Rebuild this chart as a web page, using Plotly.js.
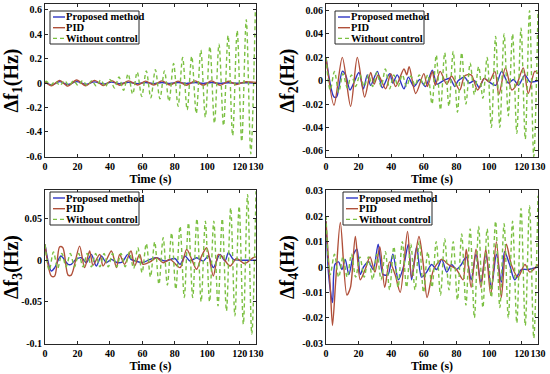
<!DOCTYPE html>
<html><head><meta charset="utf-8">
<script src="https://cdn.plot.ly/plotly-3.0.1.min.js"></script>
<style>html,body{margin:0;padding:0;background:#fff}#chart{width:550px;height:374px}</style>
</head><body><div id="chart"></div>
<script>
// ---------- data ----------
const SERIES_NAMES = ['Proposed method', 'PID', 'Without control'];
const X_TICKS = [0, 20, 40, 60, 80, 100, 120, 130];
const X_TICK_TEXT = ['0', '20', '40', '60', '80', '100', '120', '130'];
const Y_TICKS_1 = [-0.6, -0.4, -0.2, 0, 0.2, 0.4, 0.6];
const Y_TEXT_1 = ['-0.6', '-0.4', '-0.2', '0', '0.2', '0.4', '0.6'];
const Y_TICKS_2 = [-0.06, -0.04, -0.02, 0, 0.02, 0.04, 0.06];
const Y_TEXT_2 = ['-0.06', '-0.04', '-0.02', '0', '0.02', '0.04', '0.06'];
const Y_TICKS_3 = [-0.1, -0.05, 0, 0.05];
const Y_TEXT_3 = ['-0.1', '-0.05', '0', '0.05'];
const Y_TICKS_4 = [-0.03, -0.02, -0.01, 0, 0.01, 0.02, 0.03];
const Y_TEXT_4 = ['-0.03', '-0.02', '-0.01', '0', '0.01', '0.02', '0.03'];

// Panel 1 (Δf1)
const P1_T_CTRL = [0, 4, 9, 14, 19.5, 25, 30.5, 36, 41, 46, 51.5, 57, 62, 67, 72, 77, 82, 87, 92.5, 97.5, 102.5, 108, 113, 118, 123, 130];
const P1_PROPOSED = [0.01, -0.015, 0.012, -0.012, 0.012, -0.01, 0.01, -0.008, 0.008, -0.006, 0.006, -0.005, 0.005, -0.005, 0.005, -0.004, 0.004, -0.004, 0.004, -0.004, 0.004, -0.003, 0.003, -0.002, 0.002, 0.001];
const P1_PID = [0.01, -0.022, 0.022, -0.025, 0.025, -0.022, 0.022, -0.02, 0.02, -0.018, 0.018, -0.016, 0.016, -0.016, 0.018, -0.016, 0.016, -0.018, 0.018, -0.018, 0.018, -0.018, 0.015, -0.012, 0.01, 0.005];
const P1_T_NOCTRL = [0, 0.8, 3.6, 6.4, 9.2, 12.0, 14.8, 17.6, 20.4, 23.2, 26.0, 28.8, 31.6, 34.4, 37.2, 40.0, 42.8, 45.6, 48.4, 51.2, 54.0, 56.8, 59.6, 62.4, 65.2, 68.0, 70.8, 73.6, 76.4, 79.2, 82.0, 84.8, 87.6, 90.4, 93.2, 96.0, 98.8, 101.6, 104.4, 107.2, 110.0, 112.8, 115.6, 118.4, 121.2, 124.0, 126.8, 129.6];
const P1_NOCTRL = [0.01, 0.015, -0.015, 0.015, -0.02, 0.02, -0.02, 0.02, -0.02, 0.02, -0.02, 0.02, -0.025, 0.025, -0.03, 0.03, -0.04, 0.05, -0.06, 0.075, -0.09, 0.09, -0.11, 0.1, -0.12, 0.11, -0.13, 0.1, -0.15, 0.16, -0.19, 0.21, -0.22, 0.22, -0.25, 0.27, -0.28, 0.3, -0.33, 0.32, -0.35, 0.39, -0.43, 0.43, -0.48, 0.52, -0.58, 0.6];

// Panel 2 (Δf2)
const P2_T_PROPOSED = [0, 4.9, 6.5, 10, 12, 14.7, 17, 20.2, 22.9, 25.3, 27.4, 31.5, 34.5, 39, 41, 43.7, 47.8, 50.5, 53.9, 57.5, 61, 65.2, 68, 72, 76, 79, 81, 85, 87.8, 91, 94, 97, 100, 104, 107.7, 111.8, 115, 118, 122, 125, 130];
const P2_PROPOSED = [0.02, -0.014, -0.014, 0.008, 0.005, -0.008, -0.002, 0.007, -0.007, 0.005, -0.004, 0.008, -0.006, 0.006, -0.002, 0.005, -0.007, 0.003, -0.005, 0.001, -0.005, 0.009, -0.003, 0.0, 0.002, -0.005, 0.0, 0.003, -0.002, 0.0, -0.006, 0.002, -0.001, -0.004, 0.008, -0.002, 0.001, -0.004, 0.005, -0.001, 0];
const P2_T_PID = [0, 4.9, 10, 15.1, 19.2, 23.7, 27.4, 29.5, 32, 36.6, 39.7, 42.7, 47.8, 49.5, 51, 55, 60, 62.2, 65.2, 67, 70, 74, 77, 82, 85, 89, 93, 97, 100, 103.6, 106, 110, 114, 117, 121, 124, 128, 130];
const P2_PID = [0.02, -0.021, 0.02, -0.022, 0.02, -0.014, 0.007, -0.003, 0.005, -0.007, 0.006, -0.005, 0.01, 0.005, 0.012, -0.011, 0.006, -0.005, 0.008, -0.004, 0.008, -0.003, 0.004, -0.008, 0.004, 0.005, -0.008, 0.002, -0.001, 0.008, -0.012, 0.011, -0.008, -0.003, 0.011, -0.011, 0.008, 0.006];
const T_NOCTRL = [0, 2.6, 5.2, 7.8, 10.4, 13, 15.6, 18.2, 20.8, 23.4, 26, 28.6, 31.2, 33.8, 36.4, 39, 41.6, 44.2, 46.8, 49.4, 52, 54.6, 57.2, 59.8, 62.4, 65, 67.6, 70.2, 72.8, 75.4, 78, 80.6, 83.2, 85.8, 88.4, 91, 93.6, 96.2, 98.8, 101.4, 104, 106.6, 109.2, 111.8, 114.4, 117, 119.6, 122.2, 124.8, 127.4, 130];
const P2_NOCTRL = [0.02, -0.008, 0.008, -0.01, 0.006, -0.006, 0.005, -0.005, 0.005, -0.005, 0.005, -0.005, 0.007, -0.005, 0.01, -0.007, 0.005, -0.005, 0.005, -0.005, 0.004, -0.004, 0.005, -0.004, 0.005, -0.02, 0.022, -0.025, 0.024, -0.022, 0.025, -0.027, 0.024, -0.02, 0.015, -0.012, 0.012, -0.015, 0.02, -0.04, 0.038, -0.04, 0.04, -0.03, 0.04, -0.045, 0.045, -0.05, 0.06, -0.065, 0.06];

// Panel 3 (Δf3)
const P3_T_PROPOSED = [0, 3.9, 6, 9.8, 14.2, 16.2, 19, 22.4, 25.5, 28.5, 31.6, 34.7, 37.8, 40.9, 44.6, 47.7, 51, 53, 56, 60, 64.7, 68.8, 73.9, 80, 83.2, 86.3, 89.3, 93.4, 97.5, 100.6, 103.7, 107.8, 110.9, 113, 116, 120, 130];
const P3_PROPOSED = [0.019, -0.013, -0.009, 0.005, -0.005, -0.005, 0.001, 0.003, -0.003, 0.007, -0.007, 0.005, -0.003, 0.001, -0.003, -0.002, 0.007, 0.001, -0.001, -0.003, 0.001, 0.003, -0.001, 0.002, -0.005, 0.005, -0.001, 0.003, -0.001, 0.005, -0.009, 0.007, -0.001, 0.009, 0.001, 0, 0];
const P3_T_PID = [0, 3.9, 6, 9, 11, 14.2, 16.2, 21.3, 24.4, 27.5, 29.6, 33.7, 35.8, 40.9, 44, 46, 49, 53, 55.2, 58.3, 60.4, 64.7, 68.8, 72.9, 77, 83.2, 87.3, 90.4, 93.4, 96.5, 99.6, 103.7, 106.8, 108.8, 114, 118, 123, 128.3, 130];
const P3_PID = [0.019, -0.019, -0.019, 0.016, 0.015, -0.018, -0.018, 0.017, -0.009, 0.011, -0.006, 0.007, -0.007, 0.011, -0.009, 0.007, -0.005, 0.011, -0.007, 0.007, -0.005, -0.002, 0.003, -0.003, 0.001, -0.009, 0.013, 0.001, -0.011, 0.005, 0.015, -0.019, 0.007, 0.005, -0.007, 0.002, -0.004, 0.003, 0.004];
const P3_NOCTRL = [0.019, -0.012, 0.01, -0.01, 0.008, -0.008, 0.008, -0.008, 0.008, -0.008, 0.008, -0.008, 0.008, -0.008, 0.008, -0.008, 0.008, -0.008, 0.008, -0.008, 0.01, -0.01, 0.015, -0.015, 0.02, -0.02, 0.022, -0.029, 0.027, -0.03, 0.033, -0.035, 0.041, -0.045, 0.045, -0.045, 0.05, -0.05, 0.047, -0.05, 0.047, -0.055, 0.05, -0.061, 0.063, -0.067, 0.065, -0.077, 0.079, -0.089, 0.083];

// Panel 4 (Δf4)
const P4_T_PROPOSED = [0, 1.6, 4, 5.5, 7.7, 9.8, 11.8, 14, 16.9, 19, 21, 23, 26, 29, 32, 35, 38, 41, 44.4, 47.5, 50.5, 52.5, 55.6, 58.6, 61.7, 64.8, 67.8, 71, 74, 77, 80, 83, 86, 89, 92, 95, 98, 101.4, 104.5, 107.5, 109.5, 112.6, 115.7, 119.8, 123.8, 130];
const P4_PROPOSED = [0.018, -0.003, -0.014, 0.001, 0.002, -0.001, 0.003, -0.003, 0.005, 0.007, -0.003, 0, 0.002, -0.001, 0.009, -0.003, -0.003, 0.005, -0.005, 0, 0.009, -0.005, 0.008, -0.004, -0.002, 0.001, -0.001, 0.003, -0.002, 0.001, -0.001, 0.001, 0.004, -0.005, 0.005, -0.006, 0.005, -0.008, 0.005, -0.006, 0.006, 0.001, -0.005, -0.001, -0.001, 0];
const P4_T_PID = [0, 2.6, 4, 6, 8.8, 12.8, 15, 18, 21, 24, 27, 30, 33, 36, 39, 42.4, 45.5, 50, 52.5, 57, 59.5, 62, 66, 71, 75, 80, 84, 86, 89, 92, 95, 98, 101, 104.5, 107.5, 110.6, 113.6, 117.7, 122, 125, 130];
const P4_PID = [0.018, -0.008, -0.023, -0.005, 0.0175, -0.011, -0.008, 0.012, -0.005, -0.001, 0.004, -0.002, 0.008, -0.008, 0.002, -0.003, -0.01, 0.014, -0.004, 0.012, 0.002, -0.012, -0.001, 0.003, 0.001, -0.001, -0.005, 0.007, -0.008, 0.007, -0.008, 0.007, -0.011, 0.01, -0.012, 0.009, 0.001, -0.004, 0.001, -0.002, 0.001];
const P4_NOCTRL = [0.02, -0.003, 0.005, -0.004, 0.004, -0.004, 0.005, -0.004, 0.004, -0.004, 0.004, -0.005, 0.005, -0.005, 0.006, -0.009, 0.008, -0.008, 0.01, -0.008, 0.009, -0.009, 0.01, -0.01, 0.006, -0.008, 0.01, -0.011, 0.011, -0.009, 0.01, -0.013, 0.013, -0.015, 0.015, -0.02, 0.016, -0.016, 0.015, -0.012, 0.018, -0.016, 0.017, -0.02, 0.018, -0.022, 0.023, -0.023, 0.024, -0.028, 0.028];

// ---------- styling ----------
const W = 550, H = 374;
const C_BLUE = '#2f35c4', C_RED = '#b0503a', C_GREEN = '#7cc043';
const FONT = '"Liberation Serif", "Times New Roman", serif';
const px = x => x / W, py = y => 1 - y / H;

const panels = [
  {tp: P1_T_CTRL, p: P1_PROPOSED, tq: P1_T_CTRL, q: P1_PID, tn: P1_T_NOCTRL, n: P1_NOCTRL,
   x0: 45, x1: 256, y0: 4, y1: 157, range: [-0.607, 0.649], tv: Y_TICKS_1, tt: Y_TEXT_1, sub: '1', leg: [50, 11]},
  {tp: P2_T_PROPOSED, p: P2_PROPOSED, tq: P2_T_PID, q: P2_PID, tn: T_NOCTRL, n: P2_NOCTRL,
   x0: 326, x1: 538, y0: 4, y1: 157, range: [-0.0654, 0.0657], tv: Y_TICKS_2, tt: Y_TEXT_2, sub: '2', leg: [335, 11]},
  {tp: P3_T_PROPOSED, p: P3_PROPOSED, tq: P3_T_PID, q: P3_PID, tn: T_NOCTRL, n: P3_NOCTRL,
   x0: 45, x1: 256, y0: 190, y1: 344, range: [-0.101, 0.0846], tv: Y_TICKS_3, tt: Y_TEXT_3, sub: '3', leg: [50, 192]},
  {tp: P4_T_PROPOSED, p: P4_PROPOSED, tq: P4_T_PID, q: P4_PID, tn: T_NOCTRL, n: P4_NOCTRL,
   x0: 326, x1: 538, y0: 190, y1: 344, range: [-0.0303, 0.0303], tv: Y_TICKS_4, tt: Y_TEXT_4, sub: '4', leg: [343, 192]}
];

const traces = [];
const layout = {
  width: W, height: H, margin: {l: 0, r: 0, t: 0, b: 0},
  paper_bgcolor: '#fff', plot_bgcolor: '#fff', showlegend: false,
  shapes: [], annotations: []
};

panels.forEach((pn, i) => {
  const k = i === 0 ? '' : String(i + 1);
  const xa = 'x' + k, ya = 'y' + k;
  traces.push({x: pn.tp, y: pn.p, xaxis: xa, yaxis: ya, type: 'scatter', mode: 'lines', name: SERIES_NAMES[0],
    line: {color: C_BLUE, width: 1.4, shape: 'spline', smoothing: 0.8}});
  traces.push({x: pn.tq, y: pn.q, xaxis: xa, yaxis: ya, type: 'scatter', mode: 'lines', name: SERIES_NAMES[1],
    line: {color: C_RED, width: 1.4, shape: 'spline', smoothing: 0.8}});
  traces.push({x: pn.tn, y: pn.n, xaxis: xa, yaxis: ya, type: 'scatter', mode: 'lines', name: SERIES_NAMES[2],
    line: {color: C_GREEN, width: 1.4, dash: '4px,3px', shape: 'spline', smoothing: 0.9}});

  const common = {showline: true, linecolor: '#262626', linewidth: 1, mirror: 'ticks', ticks: 'inside',
    ticklen: 3, tickcolor: '#262626', showgrid: false, zeroline: false, tickangle: 0,
    tickfont: {family: FONT, size: 10, color: '#000', weight: 'bold'}};
  layout['xaxis' + k] = Object.assign({}, common, {
    domain: [px(pn.x0), px(pn.x1)], anchor: ya, range: [0, 130], tickmode: 'array',
    tickvals: X_TICKS, ticktext: X_TICK_TEXT,
    title: {text: 'Time (s)', font: {family: FONT, size: 12, color: '#000', weight: 'bold'}, standoff: 2}
  });
  layout['yaxis' + k] = Object.assign({}, common, {
    domain: [py(pn.y1), py(pn.y0)], anchor: xa, range: pn.range, tickmode: 'array',
    tickvals: pn.tv, ticktext: pn.tt,
    title: {text: 'Δf<sub>' + pn.sub + '</sub>(Hz)', font: {family: FONT, size: 20, color: '#000', weight: 'bold'}, standoff: 2}
  });

  // legend box
  const lx = pn.leg[0], ly = pn.leg[1], lw = 89, lh = 33;
  layout.shapes.push({type: 'rect', xref: 'paper', yref: 'paper', x0: px(lx), x1: px(lx + lw), y0: py(ly + lh), y1: py(ly),
    line: {color: '#262626', width: 1}, fillcolor: '#fff', layer: 'above'});
  const cols = [C_BLUE, C_RED, C_GREEN];
  for (let r = 0; r < 3; r++) {
    const yy = ly + 6 + r * 10.7;
    layout.shapes.push({type: 'line', xref: 'paper', yref: 'paper', x0: px(lx + 3), x1: px(lx + 15), y0: py(yy), y1: py(yy),
      line: {color: cols[r], width: 1.4, dash: r === 2 ? '4px,3px' : 'solid'}, layer: 'above'});
    layout.annotations.push({xref: 'paper', yref: 'paper', x: px(lx + 15), y: py(yy), xanchor: 'left', yanchor: 'middle',
      text: SERIES_NAMES[r], showarrow: false, borderpad: 0,
      font: {family: FONT, size: 10.5, color: '#000', weight: 'bold'}});
  }
});

Plotly.newPlot('chart', traces, layout, {staticPlot: true, displayModeBar: false});
</script>
</body></html>
